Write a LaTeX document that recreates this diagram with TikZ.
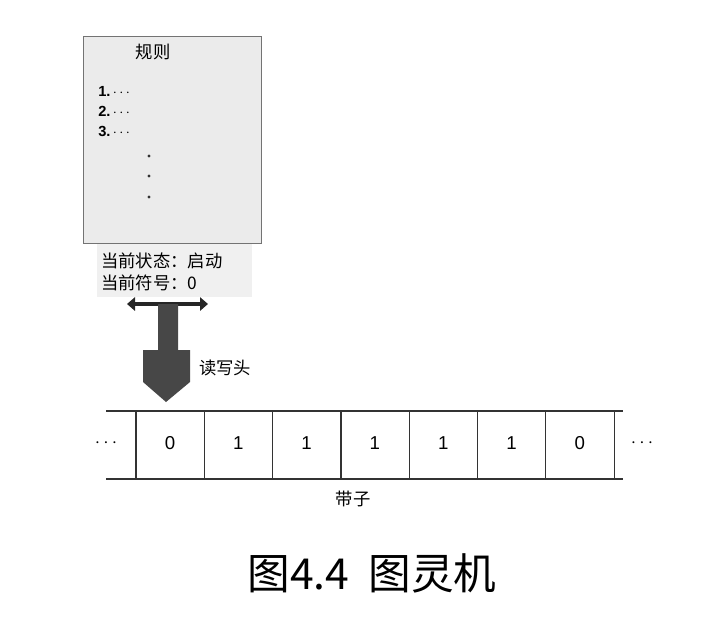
\documentclass[tikz,border=0pt]{standalone}
\usepackage{fontspec}
\setmainfont{Liberation Sans}
\newfontfamily\cjk{Noto Sans CJK SC}
\usetikzlibrary{arrows.meta}

\begin{document}
\begin{tikzpicture}[x=0.75pt,y=-0.75pt,
    label/.style={inner sep=0pt, font=\cjk\fontsize{13}{15}\selectfont},
    item/.style={inner sep=0pt, anchor=west, font=\bfseries\fontsize{11}{13}\selectfont},
    cell/.style={inner sep=0pt, font=\fontsize{14}{16}\selectfont},
    tapeline/.style={draw=black!80, line width=1.2pt}]
  \useasboundingbox (0,0) rectangle (704,626);

  % --- Rules box ---
  \fill[black!6] (97,243) rectangle (252,297);
  \draw[black!55, fill=black!8] (83,36) rectangle (261,243);
  \node[label] (title) at (153,52) {规则};
  \node[item] (r1) at (98,91)  {1.\,$\cdots$};
  \node[item] (r2) at (98,111) {2.\,$\cdots$};
  \node[item] (r3) at (98,131) {3.\,$\cdots$};
  \foreach \y [count=\i] in {156,176,197}
    \fill[black!80] (149,\y) circle (1.3pt) coordinate (d\i);

  % State labels
  \node[label, anchor=west] (state) at (101,261) {当前状态：启动};
  \node[label, anchor=west] (symbol) at (101,283) {当前符号：0};

  % --- Read/write head ---
  \coordinate (hl) at (127,304);
  \coordinate (hr) at (208,304);
  \draw[black!85, line width=3.2pt, {Triangle[length=6pt,width=10pt]}-{Triangle[length=6pt,width=10pt]}] (hl) -- (hr);
  \fill[black!72] (158,304) -- (178,304) -- (178,350) -- (190,350) -- (190,382)
    -- (166,402) -- (143,382) -- (143,350) -- (158,350) -- cycle;
  \node[label, anchor=west] (head) at (199,368) {读写头};

  % --- Tape ---
  \coordinate (tl) at (106,411);
  \coordinate (tr) at (623,411);
  \coordinate (bl) at (106,479);
  \coordinate (br) at (623,479);
  \draw[tapeline] (tl) -- (tr);
  \draw[tapeline] (bl) -- (br);
  \foreach \k in {0,...,7}
    \draw[black!80, line width=0.9pt] ({136+68.3*\k},411) -- ({136+68.3*\k},479);
  \foreach \v [count=\k from 0] in {0,1,1,1,1,1,0}
    \node[cell] (c\k) at ({170+68.3*\k},443) {\v};
  \node[cell] (ldots) at (106,443) {$\cdots$};
  \node[cell] (rdots) at (642,443) {$\cdots$};
  \node[label] (tape) at (353,499) {带子};

  % --- Caption ---
  \node[inner sep=0pt, font=\cjk\fontsize{32}{36}\selectfont] (caption) at (372,573) {图4.4\hspace{0.45em}图灵机};
\end{tikzpicture}
\end{document}
